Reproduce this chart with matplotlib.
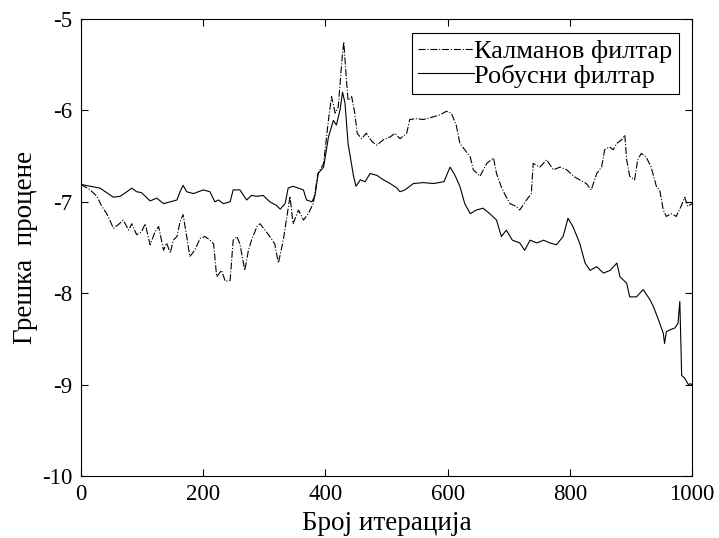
import numpy as np
import matplotlib.pyplot as plt

plt.rcParams['font.family'] = ['Liberation Serif', 'DejaVu Serif']
plt.rcParams['axes.unicode_minus'] = False

# estimation error, Kalman filter (dash-dot)
kalman_x = [0, 15, 26, 34, 42, 47, 53, 61, 69, 78, 83, 91, 99, 105, 113, 121, 127, 135, 140,
            146, 151, 157, 162, 167, 173, 178, 186, 195, 203, 211, 217, 222, 230, 236, 244,
            249, 255, 260, 268, 274, 279, 288, 293, 301, 309, 317, 323, 331, 337, 342, 347,
            356, 364, 372, 380, 388, 397, 405, 410, 416, 421, 427, 430, 434, 437, 443, 448,
            452, 459, 467, 476, 484, 495, 506, 514, 522, 533, 538, 549, 560, 577, 587, 598,
            606, 614, 620, 628, 637, 642, 653, 664, 675, 680, 688, 693, 702, 712, 718, 729,
            737, 740, 751, 762, 773, 784, 795, 806, 816, 827, 835, 844, 852, 857, 865, 871,
            877, 885, 890, 893, 898, 906, 911, 917, 925, 933, 942, 947, 953, 958, 966, 974,
            982, 988, 993, 1000]
kalman_y = [-6.81, -6.87, -6.94, -7.05, -7.13, -7.20, -7.29, -7.25, -7.20, -7.31, -7.24, -7.36,
            -7.33, -7.24, -7.47, -7.33, -7.27, -7.53, -7.45, -7.56, -7.42, -7.38, -7.22, -7.14,
            -7.38, -7.60, -7.53, -7.40, -7.38, -7.42, -7.46, -7.82, -7.75, -7.87, -7.86, -7.42,
            -7.38, -7.46, -7.75, -7.53, -7.42, -7.27, -7.24, -7.31, -7.38, -7.46, -7.67, -7.42,
            -7.16, -6.94, -7.24, -7.09, -7.20, -7.13, -7.02, -6.69, -6.58, -6.10, -5.85, -6.03,
            -5.96, -5.45, -5.25, -5.63, -5.89, -5.85, -6.03, -6.25, -6.31, -6.25, -6.34, -6.38,
            -6.32, -6.29, -6.25, -6.31, -6.25, -6.10, -6.09, -6.10, -6.07, -6.05, -6.01, -6.03,
            -6.16, -6.36, -6.43, -6.51, -6.65, -6.72, -6.58, -6.52, -6.69, -6.84, -6.91, -7.02,
            -7.05, -7.09, -6.98, -6.91, -6.58, -6.62, -6.54, -6.65, -6.62, -6.65, -6.72, -6.76,
            -6.80, -6.87, -6.69, -6.62, -6.43, -6.40, -6.43, -6.36, -6.32, -6.27, -6.54, -6.72,
            -6.76, -6.54, -6.47, -6.51, -6.62, -6.84, -6.87, -7.09, -7.16, -7.13, -7.16, -7.05,
            -6.95, -7.05, -7.02]

# estimation error, robust filter (solid)
robust_x = [0, 15, 31, 42, 53, 64, 75, 83, 91, 99, 113, 124, 135, 146, 157, 162, 167, 173, 184,
            200, 211, 219, 225, 233, 244, 249, 260, 266, 271, 279, 288, 298, 309, 320, 326, 334,
            339, 347, 364, 369, 378, 383, 388, 397, 405, 413, 418, 424, 428, 432, 437, 446, 450,
            457, 465, 473, 484, 495, 506, 517, 522, 530, 544, 560, 577, 594, 604, 612, 620, 628,
            637, 647, 658, 669, 680, 688, 696, 706, 718, 726, 735, 746, 757, 767, 778, 789, 797,
            805, 816, 825, 833, 844, 855, 866, 877, 882, 893, 898, 909, 920, 931, 937, 945, 953,
            955, 958, 964, 972, 977, 980, 982, 983, 988, 994, 997, 1000]
robust_y = [-6.81, -6.83, -6.85, -6.90, -6.95, -6.94, -6.89, -6.85, -6.89, -6.90, -6.99, -6.96,
            -7.02, -7.00, -6.98, -6.89, -6.82, -6.89, -6.91, -6.87, -6.89, -7.00, -6.98, -7.02,
            -7.00, -6.87, -6.87, -6.93, -6.98, -6.93, -6.94, -6.93, -7.00, -7.04, -7.08, -7.02,
            -6.85, -6.83, -6.87, -6.98, -7.00, -6.93, -6.69, -6.62, -6.29, -6.11, -6.16, -5.99,
            -5.80, -5.92, -6.36, -6.72, -6.83, -6.76, -6.78, -6.69, -6.71, -6.76, -6.80, -6.85,
            -6.89, -6.87, -6.80, -6.79, -6.80, -6.78, -6.62, -6.71, -6.83, -7.02, -7.13, -7.09,
            -7.07, -7.13, -7.20, -7.38, -7.31, -7.42, -7.45, -7.53, -7.42, -7.45, -7.42, -7.45,
            -7.47, -7.38, -7.18, -7.27, -7.45, -7.67, -7.75, -7.71, -7.78, -7.75, -7.67, -7.82,
            -7.89, -8.04, -8.04, -7.96, -8.07, -8.15, -8.29, -8.44, -8.55, -8.42, -8.40, -8.38,
            -8.33, -8.09, -8.62, -8.90, -8.93, -9.00, -8.99, -9.00]

fig = plt.figure(figsize=(7.19, 5.38), dpi=100)
ax = fig.add_axes([0.1127, 0.1152, 0.8498, 0.8495])

ax.plot(kalman_x, kalman_y, 'k-.', lw=0.8, label='Калманов филтар')
ax.plot(robust_x, robust_y, 'k-', lw=0.8, label='Робусни филтар')

ax.set_xlim(0, 1000)
ax.set_ylim(-10, -5)
ax.set_xticks(np.arange(0, 1001, 200))
ax.set_yticks(np.arange(-10, -4.9, 1))
ax.tick_params(direction='in', top=True, right=True, length=5, width=0.8, labelsize=16.5)
ax.tick_params(axis='x', pad=6)
ax.tick_params(axis='y', pad=6)
for s in ax.spines.values():
    s.set_linewidth(0.8)

ax.set_xlabel('Број итерација', fontsize=19.5, labelpad=4)
ax.set_ylabel('Грешка  процене', fontsize=19.5, labelpad=3)

leg = ax.legend(loc='upper right', bbox_to_anchor=(0.978, 0.97), fontsize=19, fancybox=False,
                edgecolor='k', framealpha=1, handlelength=2.1, handletextpad=0.0,
                borderpad=0.25, labelspacing=0.05, borderaxespad=0)
leg.get_frame().set_linewidth(0.8)

plt.savefig('out.png', dpi=100)
